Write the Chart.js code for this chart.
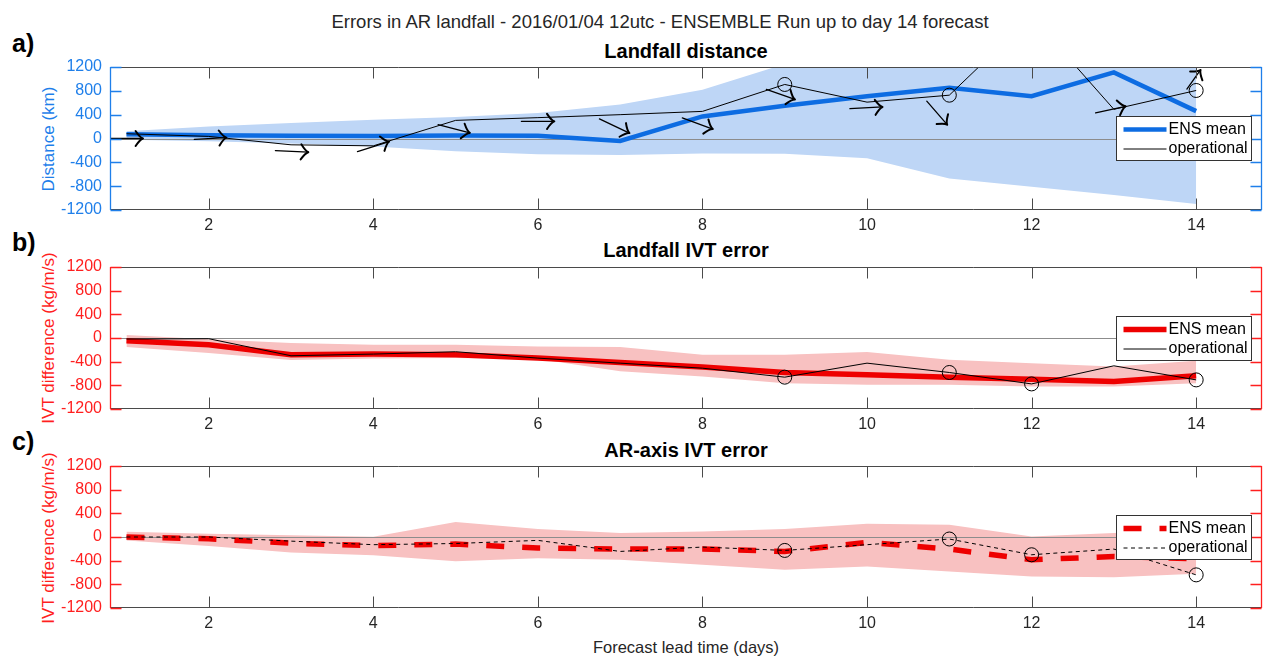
<!DOCTYPE html>
<html><head><meta charset="utf-8">
<script src="https://cdn.jsdelivr.net/npm/chart.js@4.4.1/dist/chart.umd.min.js"></script>
<style>
html,body{margin:0;padding:0;background:#fff;width:1270px;height:662px;overflow:hidden;font-family:"Liberation Sans",Arial,sans-serif;}
canvas{position:absolute;left:0;}
.t{position:absolute;white-space:nowrap;transform:translate(-50%,-50%);}
.lab{position:absolute;white-space:nowrap;font-weight:bold;font-size:25px;color:#000;transform:translateY(-50%);}
.yt{position:absolute;white-space:nowrap;font-size:17px;transform:translate(-50%,-50%) rotate(-90deg);}
.pt{position:absolute;white-space:nowrap;font-weight:bold;font-size:20px;color:#000;transform:translate(-50%,-50%);}
</style></head><body>
<div class="t" style="left:660px;top:22px;font-size:18.5px;color:#262626">Errors in AR landfall - 2016/01/04 12utc - ENSEMBLE Run up to day 14 forecast</div>
<div class="lab" style="left:12px;top:43px">a)</div>
<div class="lab" style="left:12px;top:242px">b)</div>
<div class="lab" style="left:12px;top:441px">c)</div>
<div class="pt" style="left:686px;top:51px">Landfall distance</div>
<div class="pt" style="left:686px;top:250px">Landfall IVT error</div>
<div class="pt" style="left:686px;top:450px">AR-axis IVT error</div>
<div class="yt" style="left:49px;top:139px;color:#1f7fea">Distance (km)</div>
<div class="yt" style="left:49px;top:338px;color:#ff1f1f">IVT difference (kg/m/s)</div>
<div class="yt" style="left:49px;top:538px;color:#ff1f1f">IVT difference (kg/m/s)</div>
<div class="t" style="left:686px;top:647px;font-size:16.5px;color:#262626">Forecast lead time (days)</div>
<canvas id="ca" width="1270" height="193" style="top:47px"></canvas>
<canvas id="cb" width="1270" height="192" style="top:247px"></canvas>
<canvas id="cc" width="1270" height="192" style="top:446px"></canvas>
<script>
// ---------------- data ----------------
const days = [1,2,3,4,5,6,7,8,9,10,11,12,13,14];
const xTickValues = [2,4,6,8,10,12,14];
const yTickValues = [-1200,-800,-400,0,400,800,1200];

// a) Landfall distance (km)
const distMean  = [70, 55, 45, 40, 50, 45, -40, 370, 550, 710, 850, 710, 1110, 460];
const distOper  = [80, 35, -106, -123, 304, 350, 400, 455, 907, 610, 727, 2050, 490, 806];
const distUpper = [120, 200, 260, 316, 360, 430, 570, 820, 1250, 1500, 1700, 1900, 2100, 2300];
const distLower = [-20, -45, -85, -135, -215, -265, -275, -250, -255, -330, -670, -810, -950, -1100];
const distCircleDays = [9, 11, 14];
// landfall direction arrows (centre day, centre km, u in days, v in km)
const arrowDay = [1.00, 2.02, 3.01, 4.00, 4.98, 6.00, 6.93, 7.94, 8.95, 9.99, 10.85, 12.96, 13.97];
const arrowVal = [0, 0, -216, -135, 164, 287, 210, 252, 740, 515, 430, 485, 990];
const arrowU   = [0.40, 0.39, 0.40, 0.385, 0.385, 0.40, 0.364, 0.37, 0.347, 0.396, 0.248, 0.364, 0.166];
const arrowV   = [0, 29, -27, 169, -140, 0, -237, -186, -169, 29, -394, 112, 321];

// b) Landfall IVT error (kg/m/s)
const lfMean  = [-46, -113, -283, -272, -283, -340, -414, -492, -583, -623, -662, -696, -736, -640];
const lfOper  = [-17, -12, -300, -272, -232, -340, -425, -510, -662, -425, -583, -776, -470, -708];
const lfUpper = [50, -20, -85, -113, -113, -142, -152, -283, -283, -238, -368, -425, -481, -385];
const lfLower = [-152, -254, -370, -345, -340, -357, -563, -651, -764, -792, -792, -821, -821, -764];
const lfCircleDays = [9, 11, 12, 14];

// c) AR-axis IVT error (kg/m/s)
const axMean  = [0, -30, -105, -145, -120, -187, -204, -204, -244, -91, -204, -385, -329, -370];
const axOper  = [0, 0, -70, -130, -110, -57, -244, -170, -227, -130, -34, -300, -204, -640];
const axUpper = [90, 55, 28, 5, 255, 136, 68, 95, 136, 226, 209, 10, 68, 95];
const axLower = [-60, -150, -260, -310, -410, -360, -385, -470, -555, -498, -583, -668, -680, -623];
const axCircleDays = [9, 11, 12, 14];

const legendLabels = ['ENS mean', 'operational'];

// ---------------- drawing ----------------
const FONT = '"Liberation Sans", Arial, sans-serif';
Chart.defaults.font.family = FONT;
const pts = arr => days.map((d, i) => ({x: d, y: arr[i]}));
const TL = 11;

function makePanel(id, s) {
  const panelPlugin = {
    id: 'panel_' + id,
    beforeDatasetDraw(chart, args) {
      if (args.index !== 1) return;
      const {ctx, chartArea: a, scales: {y}} = chart;
      const py = Math.round(y.getPixelForValue(0)) + 0.5;
      ctx.save();
      ctx.strokeStyle = '#8c8c8c'; ctx.lineWidth = 1;
      ctx.beginPath(); ctx.moveTo(a.left, py); ctx.lineTo(a.right, py); ctx.stroke();
      ctx.restore();
    },
    afterDatasetsDraw(chart) {
      const {ctx, chartArea: a, scales: {x, y}} = chart;
      if (s.arrows) {
        ctx.save();
        ctx.beginPath(); ctx.rect(a.left, a.top, a.right - a.left, a.bottom - a.top); ctx.clip();
        ctx.strokeStyle = '#000'; ctx.lineCap = 'round'; ctx.lineJoin = 'round';
        for (let i = 0; i < arrowDay.length; i++) {
          const x0 = x.getPixelForValue(arrowDay[i] - arrowU[i] / 2);
          const y0 = y.getPixelForValue(arrowVal[i] - arrowV[i] / 2);
          const x1 = x.getPixelForValue(arrowDay[i] + arrowU[i] / 2);
          const y1 = y.getPixelForValue(arrowVal[i] + arrowV[i] / 2);
          const ang = Math.atan2(y1 - y0, x1 - x0);
          ctx.lineWidth = 1.3;
          ctx.beginPath(); ctx.moveTo(x0, y0); ctx.lineTo(x1, y1); ctx.stroke();
          ctx.lineWidth = 2;
          const hl = 10.5, ha = 0.8;
          ctx.beginPath();
          ctx.moveTo(x1 - hl * Math.cos(ang - ha), y1 - hl * Math.sin(ang - ha));
          ctx.quadraticCurveTo(x1 - 3 * Math.cos(ang - 0.3), y1 - 3 * Math.sin(ang - 0.3), x1, y1);
          ctx.quadraticCurveTo(x1 - 3 * Math.cos(ang + 0.3), y1 - 3 * Math.sin(ang + 0.3),
                               x1 - hl * Math.cos(ang + ha), y1 - hl * Math.sin(ang + ha));
          ctx.stroke();
        }
        ctx.restore();
      }
      ctx.save();
      ctx.lineWidth = 1;
      const L = a.left + 0.5, R = Math.round(a.right) - 0.5, T = a.top + 0.5, B = Math.round(a.bottom) - 0.5;
      ctx.strokeStyle = '#4a4a4a';
      ctx.beginPath();
      ctx.moveTo(L, T); ctx.lineTo(R, T); ctx.moveTo(L, B); ctx.lineTo(R, B);
      x.ticks.forEach(t => {
        const px = Math.round(x.getPixelForValue(t.value)) + 0.5;
        ctx.moveTo(px, T); ctx.lineTo(px, T + TL);
        ctx.moveTo(px, B); ctx.lineTo(px, B - TL);
      });
      ctx.stroke();
      ctx.strokeStyle = s.axisColor;
      ctx.lineWidth = 1.3;
      ctx.beginPath();
      ctx.moveTo(L, T - 0.5); ctx.lineTo(L, B + 0.5); ctx.moveTo(R, T - 0.5); ctx.lineTo(R, B + 0.5);
      y.ticks.forEach(t => {
        const py = Math.round(y.getPixelForValue(t.value)) + 0.5;
        ctx.moveTo(L, py); ctx.lineTo(L + TL, py);
        ctx.moveTo(R, py); ctx.lineTo(R - TL, py);
      });
      ctx.stroke();
      ctx.restore();
    },
    afterDraw(chart) {
      const {ctx, chartArea: a} = chart;
      const w = 135, h = 44;
      const bx = Math.round(a.right - 11.5 - w) + 0.5, by = Math.round(a.top + 49) + 0.5;
      ctx.save();
      ctx.fillStyle = '#fff';
      ctx.fillRect(bx, by, w, h);
      ctx.strokeStyle = '#333'; ctx.lineWidth = 1;
      ctx.strokeRect(bx, by, w, h);
      const r1 = by + 13, r2 = by + 32;
      ctx.lineCap = 'butt';
      ctx.strokeStyle = s.meanColor; ctx.lineWidth = s.meanWidth;
      ctx.setLineDash(s.meanDash);
      ctx.beginPath(); ctx.moveTo(bx + 7, r1); ctx.lineTo(bx + 50, r1); ctx.stroke();
      ctx.strokeStyle = '#000'; ctx.lineWidth = 1;
      ctx.setLineDash(s.operDash);
      ctx.beginPath(); ctx.moveTo(bx + 7, r2 + 0.5); ctx.lineTo(bx + 50, r2 + 0.5); ctx.stroke();
      ctx.setLineDash([]);
      ctx.fillStyle = '#000';
      ctx.font = '16px ' + FONT;
      ctx.textBaseline = 'middle'; ctx.textAlign = 'left';
      ctx.fillText(legendLabels[0], bx + 52, r1);
      ctx.fillText(legendLabels[1], bx + 52, r2);
      ctx.restore();
    }
  };

  return new Chart(document.getElementById(id), {
    type: 'line',
    data: {
      datasets: [
        { data: pts(s.oper), borderColor: '#000', borderWidth: 1, borderDash: s.operDash,
          pointRadius: ctx => (ctx.raw && s.circles.includes(ctx.raw.x)) ? 7 : 0,
          pointBorderColor: '#000', pointBackgroundColor: 'rgba(0,0,0,0)', pointBorderWidth: 1,
          fill: false, clip: 0 },
        { data: pts(s.mean), borderColor: s.meanColor, borderWidth: s.meanWidth, borderDash: s.meanDash,
          borderCapStyle: 'butt', pointRadius: 0, fill: false, clip: 0 },
        { data: pts(s.upper), borderColor: 'rgba(0,0,0,0)', borderWidth: 0, pointRadius: 0,
          fill: '+1', backgroundColor: s.bandColor, clip: 0 },
        { data: pts(s.lower), borderColor: 'rgba(0,0,0,0)', borderWidth: 0, pointRadius: 0,
          fill: false, clip: 0 }
      ]
    },
    options: {
      animation: false, responsive: false, devicePixelRatio: 1, events: [],
      layout: { padding: { top: 20, right: 7, left: 0, bottom: 0 } },
      plugins: { legend: { display: false }, tooltip: { enabled: false }, title: { display: false } },
      elements: { line: { tension: 0 } },
      scales: {
        x: {
          type: 'linear', min: 0.8, max: 14.8,
          afterBuildTicks: sc => { sc.ticks = xTickValues.map(v => ({ value: v })); },
          afterFit: sc => { sc.height = 30; },
          grid: { display: false, drawTicks: false }, border: { display: false },
          ticks: { color: '#262626', font: { size: 16 }, padding: 6, maxRotation: 0, autoSkip: false,
                   callback: v => String(v) }
        },
        y: {
          type: 'linear', min: -1200, max: 1200,
          afterBuildTicks: sc => { sc.ticks = yTickValues.map(v => ({ value: v })); },
          afterFit: sc => { sc.width = 110; },
          grid: { display: false, drawTicks: false }, border: { display: false },
          ticks: { color: s.axisColor, font: { size: 16 }, padding: 8, autoSkip: false,
                   callback: v => String(v) }
        }
      }
    },
    plugins: [panelPlugin]
  });
}

makePanel('ca', { mean: distMean, oper: distOper, upper: distUpper, lower: distLower,
  circles: distCircleDays, arrows: true, axisColor: '#1f7fea', meanColor: '#0d6ce2', meanWidth: 4.5,
  meanDash: [], operDash: [], bandColor: '#bed6f6' });
makePanel('cb', { mean: lfMean, oper: lfOper, upper: lfUpper, lower: lfLower,
  circles: lfCircleDays, arrows: false, axisColor: '#ff1f1f', meanColor: '#ee0000', meanWidth: 5.5,
  meanDash: [], operDash: [], bandColor: '#f8c1c1' });
makePanel('cc', { mean: axMean, oper: axOper, upper: axUpper, lower: axLower,
  circles: axCircleDays, arrows: false, axisColor: '#ff1f1f', meanColor: '#ee0000', meanWidth: 5.5,
  meanDash: [18, 18], operDash: [4, 3.5], bandColor: '#f8c1c1' });
</script>
</body></html>
